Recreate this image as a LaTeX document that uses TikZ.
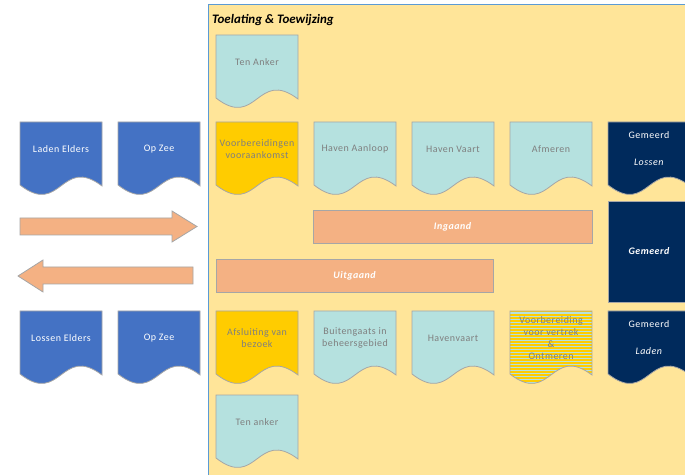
\documentclass[tikz,border=0pt]{standalone}
\usepackage{fontspec}
\setmainfont{Carlito}
\newfontfamily\spaced{Carlito}[LetterSpace=5]
\definecolor{panel}{HTML}{FFE599}
\definecolor{panelline}{HTML}{5B9BD5}
\definecolor{lcyan}{HTML}{B5E1DF}
\definecolor{gold}{HTML}{FFCC00}
\definecolor{mblue}{HTML}{4472C4}
\definecolor{navy}{HTML}{002A5C}
\definecolor{salmon}{HTML}{F4B183}
\definecolor{outl}{HTML}{A6A6A6}
\definecolor{txtgray}{HTML}{7F7F7F}
\tikzset{
  doccyan/.style={fill=lcyan,draw=outl,line width=0.8bp},
  docgold/.style={fill=gold,draw=outl,line width=0.8bp},
  docblue/.style={fill=mblue,draw=outl,line width=0.8bp},
  docnavy/.style={fill=navy,draw=outl,line width=0.8bp},
  graytxt/.style={text=txtgray,align=center,font=\spaced\fontsize{10}{12}\selectfont,inner sep=0pt},
  whitetxt/.style={text=white,align=center,font=\spaced\fontsize{10}{12}\selectfont,inner sep=0pt},
  bar/.style={fill=salmon,draw=outl,line width=0.8bp,text=white,font=\spaced\fontsize{10}{12}\selectfont\bfseries\itshape},
  blockarrow/.style={fill=salmon,draw=outl,line width=0.8bp},
}
\newcommand\DocShape[6]{%
  \begin{scope}[shift={(#2,#3)}]
    \path[#4] (0,0) -- (82,0) -- (82,64) .. controls (41,33) and (41,95) .. (0,63) -- cycle;
    \node[#6] (#1) at (41,27) {#5};
  \end{scope}}
\newcommand\StripeShape[5]{%
  \begin{scope}[shift={(#2,#3)}]
    \begin{scope}
      \clip (0,0) -- (82,0) -- (82,64) .. controls (41,33) and (41,95) .. (0,63) -- cycle;
      \fill[lcyan] (0,0) rectangle (82,80);
      \foreach \k in {0,3,...,78} {\fill[gold] (0,\k) rectangle (82,\k+1.5);}
    \end{scope}
    \draw[outl,line width=0.8bp] (0,0) -- (82,0) -- (82,64) .. controls (41,33) and (41,95) .. (0,63) -- cycle;
    \node[#5] (#1) at (41,27.5) {#4};
  \end{scope}}
\begin{document}
\begin{tikzpicture}[x=1bp,y=-1bp]
\useasboundingbox (0,0) rectangle (685,475);
\fill[white] (0,0) rectangle (685,475);
\fill[panel] (208,5) rectangle (690,480);
\draw[panelline,line width=1bp] (208,480) -- (208,5) -- (690,5);
\node[anchor=west,inner sep=0pt,font=\fontsize{13}{15}\selectfont\bfseries\itshape] (title) at (212,20) {Toelating \& Toewijzing};

% top
\DocShape{tenanker}{216}{35}{doccyan}{Ten Anker}{graytxt}

% row 1
\DocShape{laden}{20}{122}{docblue}{Laden Elders}{whitetxt}
\DocShape{opzee1}{118}{122}{docblue}{Op Zee}{whitetxt}
\DocShape{voorb}{216}{122}{docgold}{Voorbereidingen\\vooraankomst}{graytxt}
\DocShape{aanloop}{314}{122}{doccyan}{Haven Aanloop}{graytxt}
\DocShape{vaart}{412}{122}{doccyan}{Haven Vaart}{graytxt}
\DocShape{afmeren}{510}{122}{doccyan}{Afmeren}{graytxt}
\DocShape{gemlossen}{608}{122}{docnavy}{Gemeerd\\[15bp]\textit{Lossen}}{whitetxt}

% arrows
\path[blockarrow] (20,218) -- (172,218) -- (172,211) -- (197,226.5) -- (172,242) -- (172,235) -- (20,235) -- cycle;
\path[blockarrow] (193,267) -- (43,267) -- (43,260) -- (18,276) -- (43,292) -- (43,284) -- (193,284) -- cycle;

% bars
\node[bar,minimum width=279bp,minimum height=33bp] (ingaand) at (452.5,226.5) {Ingaand};
\node[bar,minimum width=277bp,minimum height=33bp] (uitgaand) at (354.5,275.5) {Uitgaand};
\node[fill=navy,draw=outl,line width=0.8bp,minimum width=82bp,minimum height=101bp,text=white,font=\spaced\fontsize{10}{12}\selectfont\bfseries\itshape] (gemeerd) at (649,251.5) {Gemeerd};

% row 2
\DocShape{lossen}{20}{311}{docblue}{Lossen Elders}{whitetxt}
\DocShape{opzee2}{118}{311}{docblue}{Op Zee}{whitetxt}
\DocShape{afsluiting}{216}{311}{docgold}{Afsluiting van\\bezoek}{graytxt}
\DocShape{buitengaats}{314}{311}{doccyan}{Buitengaats in\\beheersgebied}{graytxt}
\DocShape{havenvaart}{412}{311}{doccyan}{Havenvaart}{graytxt}
\StripeShape{vertrek}{510}{311}{Voorbereiding\\voor vertrek\\\&\\Ontmeren}{graytxt}
\DocShape{gemladen}{608}{311}{docnavy}{Gemeerd\\[15bp]\textit{Laden}}{whitetxt}

% bottom
\DocShape{tenanker2}{216}{395}{doccyan}{Ten anker}{graytxt}
\end{tikzpicture}
\end{document}
